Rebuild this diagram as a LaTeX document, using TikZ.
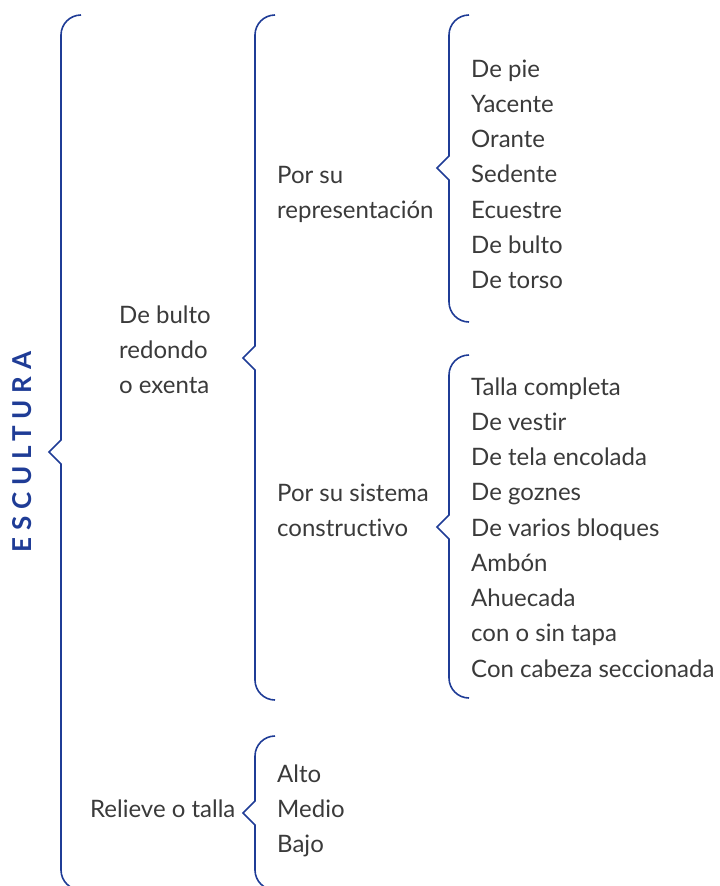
\documentclass[tikz,border=0pt]{standalone}
\usepackage{fontspec}
\setmainfont{Lato}[Ligatures=CommonOff]
\usetikzlibrary{positioning}
\definecolor{navy}{HTML}{1F3C96}
\definecolor{ink}{HTML}{3A3A3A}
\tikzstyle{brace}=[draw=navy,line width=1.6pt,line join=miter]
\tikzstyle{item}=[inner sep=0pt,text height=17pt,text depth=5pt,text=ink,
  font=\fontsize{24}{28}\selectfont]
\tikzstyle{title}=[inner sep=0pt,text=navy,rotate=90,
  font=\fontsize{26}{28}\bfseries\addfontfeature{LetterSpace=26}]
\newcommand{\llave}[4]{%
  \draw[brace] (#1+20,#2) .. controls (#1+9,#2) and (#1,#2+9) .. (#1,#2+20)
    -- (#1,#3-12) -- (#1-12,#3) -- (#1,#3+12) -- (#1,#4-20)
    .. controls (#1,#4-9) and (#1+9,#4) .. (#1+20,#4);}

\begin{document}
\begin{tikzpicture}[on grid, node distance=35.25pt, x=1pt, y=-1pt]
  \useasboundingbox (0,0) rectangle (720,886);

  \node[title] (esc) at (22,452) {ESCULTURA};

  \llave{61}{15}{452}{890}
  \llave{255}{15}{358}{700}
  \llave{449}{15}{168}{322}
  \llave{449}{355}{527}{698}
  \llave{255}{736}{813}{890}

  \node[item, anchor=west] (bul1) at (119,317) {De bulto};
  \node[item, below=of bul1.west, anchor=west] (bul2) {redondo};
  \node[item, below=of bul2.west, anchor=west] (bul3) {o exenta};

  \node[item, anchor=west] (rep1) at (277,177) {Por su};
  \node[item, below=of rep1.west, anchor=west] (rep2) {representación};

  \node[item, anchor=west] (a1) at (471,71) {De pie};
  \node[item, below=of a1.west, anchor=west] (a2) {Yacente};
  \node[item, below=of a2.west, anchor=west] (a3) {Orante};
  \node[item, below=of a3.west, anchor=west] (a4) {Sedente};
  \node[item, below=of a4.west, anchor=west] (a5) {Ecuestre};
  \node[item, below=of a5.west, anchor=west] (a6) {De bulto};
  \node[item, below=of a6.west, anchor=west] (a7) {De torso};

  \node[item, anchor=west] (sis1) at (277,495) {Por su sistema};
  \node[item, below=of sis1.west, anchor=west] (sis2) {constructivo};

  \node[item, anchor=west] (b1) at (471,389) {Talla completa};
  \node[item, below=of b1.west, anchor=west] (b2) {De vestir};
  \node[item, below=of b2.west, anchor=west] (b3) {De tela encolada};
  \node[item, below=of b3.west, anchor=west] (b4) {De goznes};
  \node[item, below=of b4.west, anchor=west] (b5) {De varios bloques};
  \node[item, below=of b5.west, anchor=west] (b6) {Ambón};
  \node[item, below=of b6.west, anchor=west] (b7) {Ahuecada};
  \node[item, below=of b7.west, anchor=west] (b8) {con o sin tapa};
  \node[item, below=of b8.west, anchor=west] (b9) {Con cabeza seccionada};

  \node[item, anchor=west] (rel) at (90,811) {Relieve o talla};

  \node[item, anchor=west] (c1) at (277,776) {Alto};
  \node[item, below=of c1.west, anchor=west] (c2) {Medio};
  \node[item, below=of c2.west, anchor=west] (c3) {Bajo};
\end{tikzpicture}
\end{document}
